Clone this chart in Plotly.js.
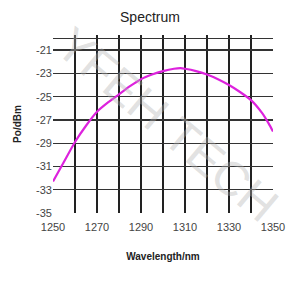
<!DOCTYPE html>
<html>
<head>
<meta charset="utf-8">
<script src="https://cdn.plot.ly/plotly-3.0.1.min.js"></script>
<style>html,body{margin:0;padding:0;background:#fff;}#chart{width:300px;height:283px;}</style>
</head>
<body>
<div id="chart"></div>
<script>
const wavelength = [1250, 1255, 1260, 1265, 1270, 1275, 1280, 1285, 1290, 1295, 1300, 1305, 1308, 1310, 1315, 1320, 1325, 1330, 1335, 1340, 1345, 1348, 1350];
const power = [-32.3, -30.6, -28.9, -27.5, -26.3, -25.5, -24.8, -24.1, -23.5, -23.1, -22.8, -22.6, -22.55, -22.6, -22.8, -23.1, -23.5, -24.0, -24.6, -25.3, -26.4, -27.3, -28.0];
const xTicks = [1250, 1270, 1290, 1310, 1330, 1350];
const yTicks = [-35, -33, -31, -29, -27, -25, -23, -21, -20];
const yTickText = ['-35', '-33', '-31', '-29', '-27', '-25', '-23', '-21', ''];

const trace = {
  x: wavelength, y: power, type: 'scatter', mode: 'lines',
  line: {color: '#dd22dd', width: 2.2, shape: 'spline', smoothing: 0.6},
  hoverinfo: 'skip'
};

const layout = {
  width: 300, height: 283,
  margin: {l: 53, r: 27, t: 35, b: 70},
  paper_bgcolor: '#fff', plot_bgcolor: '#fff',
  showlegend: false,
  font: {family: 'Liberation Sans, Arial, sans-serif', color: '#333'},
  title: {text: 'Spectrum', x: 0.5, xref: 'container', y: 0.94, yanchor: 'middle',
          font: {size: 14, color: '#222', family: 'Liberation Sans, Arial, sans-serif'}},
  xaxis: {
    range: [1250, 1350], tickvals: xTicks, ticktext: xTicks.map(String),
    showgrid: true, gridcolor: '#222', gridwidth: 1.3,
    minor: {dtick: 10, tick0: 1250, showgrid: true, gridcolor: '#222', gridwidth: 1.3},
    zeroline: false, showline: false, ticks: '', ticklabelstandoff: 6,
    tickfont: {size: 11, color: '#444'},
    title: {text: '<b>Wavelength/nm</b>', font: {size: 10, color: '#222'}, standoff: 20}
  },
  yaxis: {
    range: [-35, -19.7], tickvals: yTicks, ticktext: yTickText,
    showgrid: true, gridcolor: '#333', gridwidth: 1.3,
    zeroline: false, showline: false, ticks: '',
    tickfont: {size: 11, color: '#444'},
    title: {text: '<b>Po/dBm</b>', font: {size: 10, color: '#222'}, standoff: 12}
  },
  annotations: [{
    text: 'YFEH TECH', xref: 'paper', yref: 'paper', x: 0.52, y: 0.5,
    xanchor: 'center', yanchor: 'middle', showarrow: false, textangle: 40,
    font: {size: 48, color: 'rgba(180,180,180,0.4)', family: 'Liberation Sans, Arial, sans-serif'}
  }]
};

Plotly.newPlot('chart', [trace], layout, {displayModeBar: false, staticPlot: true});
</script>
</body>
</html>
